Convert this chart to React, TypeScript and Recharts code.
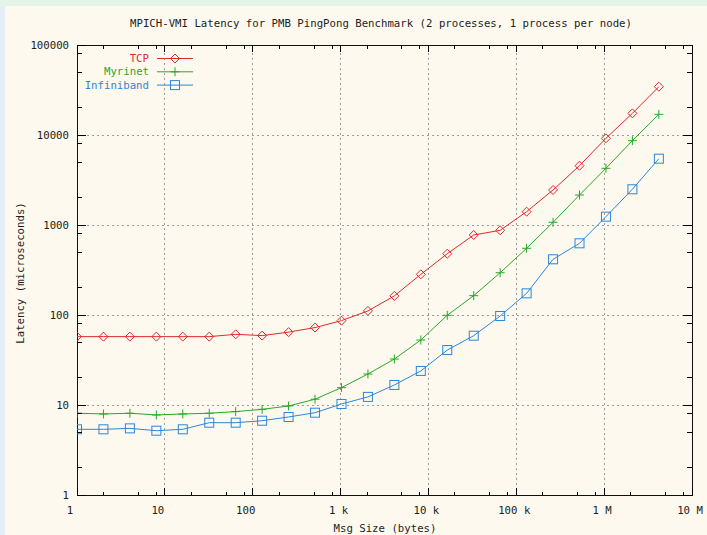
import React from "react";
import {
  LineChart,
  Line,
  XAxis,
  YAxis,
  ReferenceLine,
  ReferenceArea,
  Legend,
} from "recharts";

// message sizes in bytes (powers of two, 1 B .. 4 MB)
const msgSizes = [
  1, 2, 4, 8, 16, 32, 64, 128, 256, 512, 1024, 2048, 4096, 8192, 16384, 32768,
  65536, 131072, 262144, 524288, 1048576, 2097152, 4194304,
];

// latency in microseconds
const tcp = [
  57.5, 57.5, 57.5, 57.5, 57.5, 57.5, 61, 59, 64.5, 72.5, 86.5, 111, 163, 283,
  480, 774, 873, 1406, 2450, 4560, 9190, 17400, 34400,
];
const myrinet = [
  8.1, 7.95, 8.1, 7.75, 7.95, 8.1, 8.45, 8.95, 9.75, 11.6, 15.6, 22.1, 32.4,
  52.7, 99.3, 164, 295, 551, 1072, 2154, 4266, 8650, 16980,
];
const infiniband = [
  5.37, 5.37, 5.5, 5.18, 5.37, 6.36, 6.36, 6.69, 7.36, 8.21, 10.26, 12.3, 16.7,
  23.9, 40.8, 58.9, 97.5, 174, 416, 626, 1238, 2494, 5455,
];

const seriesNames = ["TCP", "Myrinet", "Infiniband"];

const xMajor = [1, 10, 100, 1000, 10000, 100000, 1000000, 10000000];
const xMajorLabels = ["1", "10", "100", "1 k", "10 k", "100 k", "1 M", "10 M"];
const xMinor = [
  2, 5, 8, 20, 50, 80, 200, 500, 800, 2000, 5000, 8000, 20000, 50000, 80000,
  200000, 500000, 800000, 2000000, 5000000, 8000000,
];
const yMajor = [1, 10, 100, 1000, 10000, 100000];
const yMajorLabels = ["1", "10", "100", "1000", "10000", "100000"];
const yMinor = [
  2, 5, 8, 20, 50, 80, 200, 500, 800, 2000, 5000, 8000, 20000, 50000, 80000,
];

const W = 707;
const H = 535;
const LEFT = 77;
const RIGHT = 692;
const TOP = 45;
const BOTTOM = 495;

const FONT = "'DejaVu Sans Mono', 'Liberation Mono', monospace";
const FS = 10.7;
const TEXT = "#1e1e1e";
const GRID = "#9c9c9c";

const colors: Record<string, string> = {
  TCP: "#dd2a2a",
  Myrinet: "#28a828",
  Infiniband: "#2b86dc",
};
const shapes: Record<string, string> = {
  TCP: "diamond",
  Myrinet: "plus",
  Infiniband: "square",
};

const data = msgSizes.map((size, i) => ({
  size,
  TCP: tcp[i],
  Myrinet: myrinet[i],
  Infiniband: infiniband[i],
}));

function marker(shape: string, cx: number, cy: number, color: string, key?: any) {
  const r = 4.5;
  if (shape === "diamond") {
    return (
      <path
        key={key}
        d={`M${cx} ${cy - r}L${cx + r} ${cy}L${cx} ${cy + r}L${cx - r} ${cy}Z`}
        fill="none"
        stroke={color}
        strokeWidth={1}
      />
    );
  }
  if (shape === "plus") {
    return (
      <path
        key={key}
        d={`M${cx - r} ${cy}H${cx + r}M${cx} ${cy - r}V${cy + r}`}
        fill="none"
        stroke={color}
        strokeWidth={1}
      />
    );
  }
  return (
    <rect
      key={key}
      x={cx - r}
      y={cy - r}
      width={2 * r}
      height={2 * r}
      fill="none"
      stroke={color}
      strokeWidth={1}
    />
  );
}

function XTick(props: any) {
  const { x, payload } = props;
  const i = xMajor.indexOf(payload.value);
  const len = i >= 0 ? 7 : 3.5;
  const label = i >= 0 ? xMajorLabels[i] : null;
  const dx = label && label.includes(" ") ? -2 : -7;
  return (
    <g>
      <line x1={x} x2={x} y1={BOTTOM} y2={BOTTOM - len} stroke="#000" shapeRendering="crispEdges" />
      <line x1={x} x2={x} y1={TOP} y2={TOP + len} stroke="#000" shapeRendering="crispEdges" />
      {label && (
        <text
          x={x + dx}
          y={BOTTOM + 15}
          textAnchor="middle"
          dominantBaseline="central"
          fontFamily={FONT}
          fontSize={FS}
          fill={TEXT}
        >
          {label}
        </text>
      )}
    </g>
  );
}

function YTick(props: any) {
  const { y, payload } = props;
  const i = yMajor.indexOf(payload.value);
  const len = i >= 0 ? 9 : 5;
  return (
    <g>
      <line x1={LEFT} x2={LEFT + len} y1={y} y2={y} stroke="#000" shapeRendering="crispEdges" />
      <line x1={RIGHT} x2={RIGHT - len} y1={y} y2={y} stroke="#000" shapeRendering="crispEdges" />
      {i >= 0 && (
        <text
          x={LEFT - 8}
          y={y}
          textAnchor="end"
          dominantBaseline="central"
          fontFamily={FONT}
          fontSize={FS}
          fill={TEXT}
        >
          {yMajorLabels[i]}
        </text>
      )}
    </g>
  );
}

function LegendBox(props: any) {
  const payload = props.payload || [];
  const ordered = seriesNames
    .map((n) => payload.find((p: any) => p.value === n || p.dataKey === n))
    .filter(Boolean);
  return (
    <svg
      width={W}
      height={100}
      style={{ position: "absolute", left: 0, top: 0, overflow: "visible", pointerEvents: "none" }}
    >
      {ordered.map((p: any, i: number) => {
        const name = p.value;
        const c = colors[name];
        const y = 58.5 + i * 13.3;
        return (
          <g key={name}>
            <text
              x={149}
              y={y}
              textAnchor="end"
              dominantBaseline="central"
              fontFamily={FONT}
              fontSize={FS}
              fill={c}
            >
              {name}
            </text>
            <line x1={157} x2={193} y1={y} y2={y} stroke={c} strokeWidth={1} />
            {marker(shapes[name], 175, y, c)}
          </g>
        );
      })}
    </svg>
  );
}

const makeDot = (name: string) => (p: any) =>
  marker(shapes[name], p.cx, p.cy, colors[name], `${name}-${p.index}`);

export default function App() {
  return (
    <div
      style={{
        position: "absolute",
        left: 0,
        top: 0,
        width: W,
        height: H,
        background: "#e4eef5",
        overflow: "hidden",
      }}
    >
      <div
        style={{
          position: "absolute",
          left: 0,
          top: 0,
          width: W,
          height: 6,
          background: "#e3f4e8",
        }}
      />
      <div
        style={{
          position: "absolute",
          left: 5,
          top: 6,
          width: W - 5,
          height: H - 6,
          background: "#fdf9ef",
        }}
      />
      <div style={{ position: "absolute", left: 0, top: 0 }}>
        <LineChart
          width={W}
          height={H}
          data={data}
          margin={{ top: TOP, right: W - RIGHT, bottom: 0, left: 0 }}
        >
          <XAxis
            dataKey="size"
            type="number"
            scale="log"
            domain={[1, 10000000]}
            ticks={[...xMajor, ...xMinor]}
            interval={0}
            allowDataOverflow
            axisLine={false}
            tickLine={false}
            tick={<XTick />}
            height={H - BOTTOM}
          />
          <YAxis
            type="number"
            scale="log"
            domain={[1, 100000]}
            ticks={[...yMajor, ...yMinor]}
            interval={0}
            allowDataOverflow
            axisLine={false}
            tickLine={false}
            tick={<YTick />}
            width={LEFT}
          />
          {xMajor.slice(1, -1).map((v) => (
            <ReferenceLine
              key={`gx${v}`}
              x={v}
              stroke={GRID}
              strokeDasharray="2 3"
              shapeRendering="crispEdges"
            />
          ))}
          {yMajor.slice(1, -1).map((v) => (
            <ReferenceLine
              key={`gy${v}`}
              y={v}
              stroke={GRID}
              strokeDasharray="2 3"
              shapeRendering="crispEdges"
            />
          ))}
          <ReferenceArea
            x1={1}
            x2={10000000}
            y1={1}
            y2={100000}
            fill="none"
            fillOpacity={0}
            stroke="#111"
            strokeWidth={1}
            strokeOpacity={1}
            shapeRendering="crispEdges"
            ifOverflow="visible"
          />
          {seriesNames.map((name) => (
            <Line
              key={name}
              type="linear"
              dataKey={name}
              name={name}
              stroke={colors[name]}
              strokeWidth={1}
              dot={makeDot(name)}
              activeDot={false}
              isAnimationActive={false}
            />
          ))}
          <Legend
            layout="horizontal"
            verticalAlign="middle"
            align="center"
            wrapperStyle={{ left: 0, top: 0, width: W }}
            content={<LegendBox />}
          />
        </LineChart>
      </div>
      <svg
        width={W}
        height={H}
        style={{ position: "absolute", left: 0, top: 0, pointerEvents: "none" }}
      >
        <text
          x={381}
          y={23}
          textAnchor="middle"
          dominantBaseline="central"
          fontFamily={FONT}
          fontSize={FS}
          fill={TEXT}
        >
          MPICH-VMI Latency for PMB PingPong Benchmark (2 processes, 1 process per node)
        </text>
        <text
          x={385}
          y={528}
          textAnchor="middle"
          dominantBaseline="central"
          fontFamily={FONT}
          fontSize={FS}
          fill={TEXT}
        >
          Msg Size (bytes)
        </text>
        <text
          x={20}
          y={273}
          textAnchor="middle"
          dominantBaseline="central"
          fontFamily={FONT}
          fontSize={FS}
          fill={TEXT}
          transform="rotate(-90 20 273)"
        >
          Latency (microseconds)
        </text>
      </svg>
    </div>
  );
}
